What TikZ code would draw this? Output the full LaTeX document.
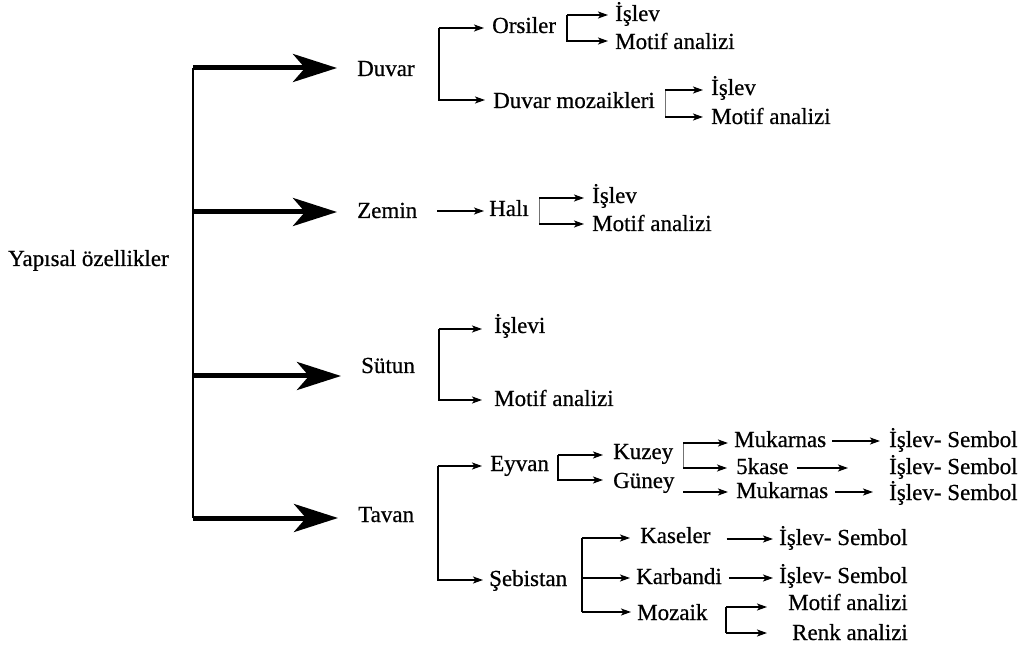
\documentclass[tikz,border=0pt]{standalone}
\usepackage{fontspec}
\setmainfont{Liberation Serif}
\newfontfamily\lblfont{Liberation Serif}[FakeBold=0.6]
\usetikzlibrary{arrows.meta}
\begin{document}
\begin{tikzpicture}[x=1pt,y=-1pt,
  lbl/.style={font=\lblfont\fontsize{23}{27}\selectfont, inner sep=0pt, text height=16pt, text depth=4pt, anchor=west},
  tip/.style={-{Stealth[length=10pt,width=7pt,inset=2.5pt]}},
  arr/.style={tip, line width=1.5pt, shorten >=8pt},
  arrthin/.style={arr, line width=1.1pt},
  arrthick/.style={arr, line width=2.4pt},
  bar/.style={line width=1.5pt},
  faintbar/.style={line width=1pt, draw=black!55},
  trunk/.style={line width=2.4pt},
  big/.style={line width=5pt, -{Stealth[length=44pt,width=28pt,inset=12pt]}, shorten >=20pt}]
\useasboundingbox (0,0) rectangle (1026,652);

% ---- labels ----
\node[lbl] (root) at (8,260) {Yapısal özellikler};
\node[lbl] (duvar) at (357,70) {Duvar};
\node[lbl] (zemin) at (357,212) {Zemin};
\node[lbl] (sutun) at (361,367) {Sütun};
\node[lbl] (tavan) at (358,516) {Tavan};

\node[lbl] (orsiler) at (492,27) {Orsiler};
\node[lbl] (dmoz) at (493,102) {Duvar mozaikleri};
\node[lbl] (oislev) at (615,15) {İşlev};
\node[lbl] (omotif) at (615,43) {Motif analizi};
\node[lbl] (dmislev) at (711,89) {İşlev};
\node[lbl] (dmmotif) at (711,118) {Motif analizi};

\node[lbl] (hali) at (489,210) {Halı};
\node[lbl] (hislev) at (592,197) {İşlev};
\node[lbl] (hmotif) at (592,225) {Motif analizi};

\node[lbl] (sislevi) at (494,327) {İşlevi};
\node[lbl] (smotif) at (494,400) {Motif analizi};

\node[lbl] (eyvan) at (490,465) {Eyvan};
\node[lbl] (sebistan) at (489,580) {Şebistan};
\node[lbl] (kuzey) at (613,453) {Kuzey};
\node[lbl] (guney) at (613,482) {Güney};
\node[lbl] (kmuk) at (734,441) {Mukarnas};
\node[lbl] (kkase) at (736,468) {5kase};
\node[lbl] (gmuk) at (736,492) {Mukarnas};
\node[lbl] (isa) at (889,441) {İşlev- Sembol};
\node[lbl] (isb) at (889,468) {İşlev- Sembol};
\node[lbl] (isc) at (889,494) {İşlev- Sembol};

\node[lbl] (kaseler) at (640,537) {Kaseler};
\node[lbl] (karbandi) at (636,578) {Karbandi};
\node[lbl] (mozaik) at (637,614) {Mozaik};
\node[lbl] (isd) at (779,539) {İşlev- Sembol};
\node[lbl] (ise) at (779,577) {İşlev- Sembol};
\node[lbl] (mmotif) at (788,604) {Motif analizi};
\node[lbl] (mrenk) at (792,634) {Renk analizi};

% ---- main trunk with heavy arrows ----
\coordinate (t1) at (193,68);
\coordinate (t2) at (193,212);
\coordinate (t3) at (193,376);
\coordinate (t4) at (193,518);
\draw[trunk] (t1) -- (t4);
\draw[big] (t1) -- (t1 -| duvar.west);
\draw[big] (t2) -- (t2 -| zemin.west);
\draw[big] (t3) -- (t3 -| sutun.west);
\draw[big] (t4) -- (t4 -| tavan.west);

% ---- Duvar ----
\coordinate (d1) at (439,28);
\coordinate (d2) at (439,100);
\draw[arr] (d1) -- (d1 -| orsiler.west);
\draw[arr] (d1) -- (d2) -- (d2 -| dmoz.west);

\coordinate (o1) at (567,15);
\coordinate (o2) at (567,41);
\draw[arr, shorten >=7pt] (o1) -- (o1 -| oislev.west);
\draw[arr, shorten >=7pt] (o1) -- (o2) -- (o2 -| omotif.west);

\coordinate (m1) at (665,90);
\coordinate (m2) at (665,117);
\draw[faintbar] (m1) -- (m2);
\draw[arr] (m1) -- (m1 -| dmislev.west);
\draw[arrthick] (m2) -- (m2 -| dmmotif.west);

% ---- Zemin ----
\coordinate (z0) at (437,211);
\draw[arrthin, shorten >=5pt] (z0) -- (z0 -| hali.west);
\coordinate (h1) at (539,198);
\coordinate (h2) at (539,224);
\draw[faintbar] (h1) -- (h2);
\draw[arr] (h1) -- (h1 -| hislev.west);
\draw[arr] (h2) -- (h2 -| hmotif.west);

% ---- Sütun ----
\coordinate (s1) at (439,329);
\coordinate (s2) at (439,400);
\draw[arr, shorten >=12pt] (s1) -- (s1 -| sislevi.west);
\draw[arr, shorten >=12pt] (s1) -- (s2) -- (s2 -| smotif.west);

% ---- Tavan ----
\coordinate (v1) at (438,466);
\coordinate (v2) at (438,580);
\draw[arr] (v1) -- (v1 -| eyvan.west);
\draw[arr, shorten >=6pt] (v1) -- (v2) -- (v2 -| sebistan.west);

\coordinate (e1) at (558,455);
\coordinate (e2) at (558,480);
\draw[arr, shorten >=10pt] (e1) -- (e1 -| kuzey.west);
\draw[arr, shorten >=10pt] (e1) -- (e2) -- (e2 -| guney.west);

\coordinate (k1) at (683,443);
\coordinate (k2) at (683,468);
\draw[faintbar] (k1) -- (k2);
\draw[arrthick, shorten >=6pt] (k1) -- (k1 -| kmuk.west);
\draw[arrthin, shorten >=9pt] (k2) -- (k2 -| kkase.west);
\draw[arrthick, shorten >=8pt] (k2 |- gmuk) -- (gmuk.west);

\draw[arrthick, shorten <=6pt, shorten >=9pt] (kmuk.east) -- (kmuk.east -| isa.west);
\draw[arr, shorten <=8pt, shorten >=41pt] (kkase.east) -- (kkase.east -| isb.west);
\draw[arr, shorten <=7pt, shorten >=16pt] (gmuk.east) -- (gmuk.east -| isc.west);

\coordinate (b1) at (582,538);
\coordinate (b2) at (582,612);
\draw[bar] (b1) -- (b2);
\draw[arr, shorten >=10pt] (b1) -- (b1 -| kaseler.west);
\draw[arr, shorten >=6pt] (b1 |- karbandi) -- (karbandi.west);
\draw[arr, shorten >=6pt] (b2) -- (b2 -| mozaik.west);

\draw[arrthick, shorten <=16pt, shorten >=6pt] (kaseler.east |- isd) -- (isd.west);
\draw[arr, shorten <=7pt, shorten >=6pt] (karbandi.east) -- (karbandi.east -| ise.west);

\coordinate (z1) at (726,607);
\coordinate (z2) at (726,633);
\draw[bar] (z1) -- (z2);
\draw[arr, shorten >=21pt] (z1) -- (z1 -| mmotif.west);
\draw[arrthick, shorten >=25pt] (z2) -- (z2 -| mrenk.west);
\end{tikzpicture}
\end{document}
